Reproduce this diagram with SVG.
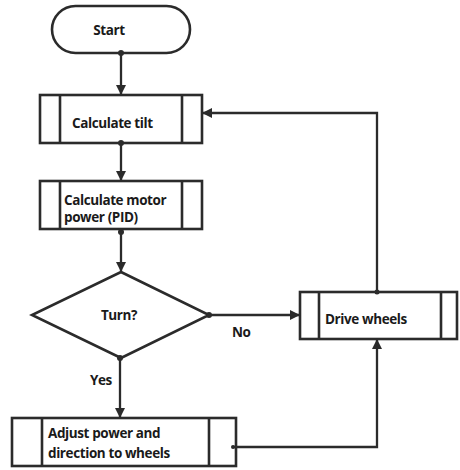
<svg xmlns="http://www.w3.org/2000/svg" width="460" height="470" viewBox="0 0 460 470">
<style>
.s{fill:#fff;stroke:#2b2b2b;stroke-width:2.6}
.c{fill:none;stroke:#2b2b2b;stroke-width:2.3}
.t{font-family:"Open Sans","Noto Sans",sans-serif;font-weight:bold;font-size:13.5px;letter-spacing:-0.4px;fill:#1a1a1a}
.d{fill:#2b2b2b}
</style>
<defs>
<marker id="a" markerWidth="10" markerHeight="10" refX="9" refY="5" orient="auto" markerUnits="userSpaceOnUse">
<path d="M0,0 L10,5 L0,10 Z" fill="#2b2b2b"/>
</marker>
</defs>
<rect width="460" height="470" fill="#fff"/>
<g id="start">
<rect class="s" x="52" y="6" width="138" height="47" rx="23.5"/>
<text class="t" x="109" y="35" text-anchor="middle">Start</text>
</g>
<g id="tilt">
<rect class="s" x="40" y="95" width="162" height="48"/>
<line class="s" x1="60" y1="95" x2="60" y2="143"/>
<line class="s" x1="182" y1="95" x2="182" y2="143"/>
<text class="t" x="72" y="128">Calculate tilt</text>
</g>
<g id="power">
<rect class="s" x="40" y="181" width="162" height="48"/>
<line class="s" x1="60" y1="181" x2="60" y2="229"/>
<line class="s" x1="182" y1="181" x2="182" y2="229"/>
<text class="t" x="64" y="205">Calculate motor</text>
<text class="t" x="64" y="222">power (PID)</text>
</g>
<g id="turn">
<polygon class="s" points="121,272 209,315 121,358 32,315"/>
<text class="t" x="119" y="320" text-anchor="middle">Turn?</text>
</g>
<g id="adjust">
<rect class="s" x="12" y="418" width="224" height="48"/>
<line class="s" x1="42" y1="418" x2="42" y2="466"/>
<line class="s" x1="209" y1="418" x2="209" y2="466"/>
<text class="t" x="48" y="438">Adjust power and</text>
<text class="t" x="48" y="458">direction to wheels</text>
</g>
<g id="drive">
<rect class="s" x="300" y="292" width="157" height="47"/>
<line class="s" x1="319" y1="292" x2="319" y2="339"/>
<line class="s" x1="441" y1="292" x2="441" y2="339"/>
<text class="t" x="325" y="324">Drive wheels</text>
</g>
<g id="connectors">
<line class="c" x1="121" y1="53" x2="121" y2="94" marker-end="url(#a)"/>
<circle class="d" cx="121" cy="53" r="3"/>
<line class="c" x1="121" y1="143" x2="121" y2="180" marker-end="url(#a)"/>
<circle class="d" cx="121" cy="143" r="3"/>
<line class="c" x1="121" y1="229" x2="121" y2="271" marker-end="url(#a)"/>
<circle class="d" cx="121" cy="232" r="3"/>
<line class="c" x1="209" y1="315" x2="299" y2="315" marker-end="url(#a)"/>
<circle class="d" cx="209" cy="315" r="3"/>
<text class="t" x="232" y="337">No</text>
<line class="c" x1="120" y1="358" x2="120" y2="417" marker-end="url(#a)"/>
<circle class="d" cx="120" cy="358" r="3"/>
<text class="t" x="90" y="385">Yes</text>
<polyline class="c" points="233,447 377,447 377,340" marker-end="url(#a)"/>
<circle class="d" cx="233" cy="447" r="2"/>
<polyline class="c" points="377,292 377,113 203,113" marker-end="url(#a)"/>
<circle class="d" cx="377" cy="292" r="2.5"/>
</g>
</svg>
